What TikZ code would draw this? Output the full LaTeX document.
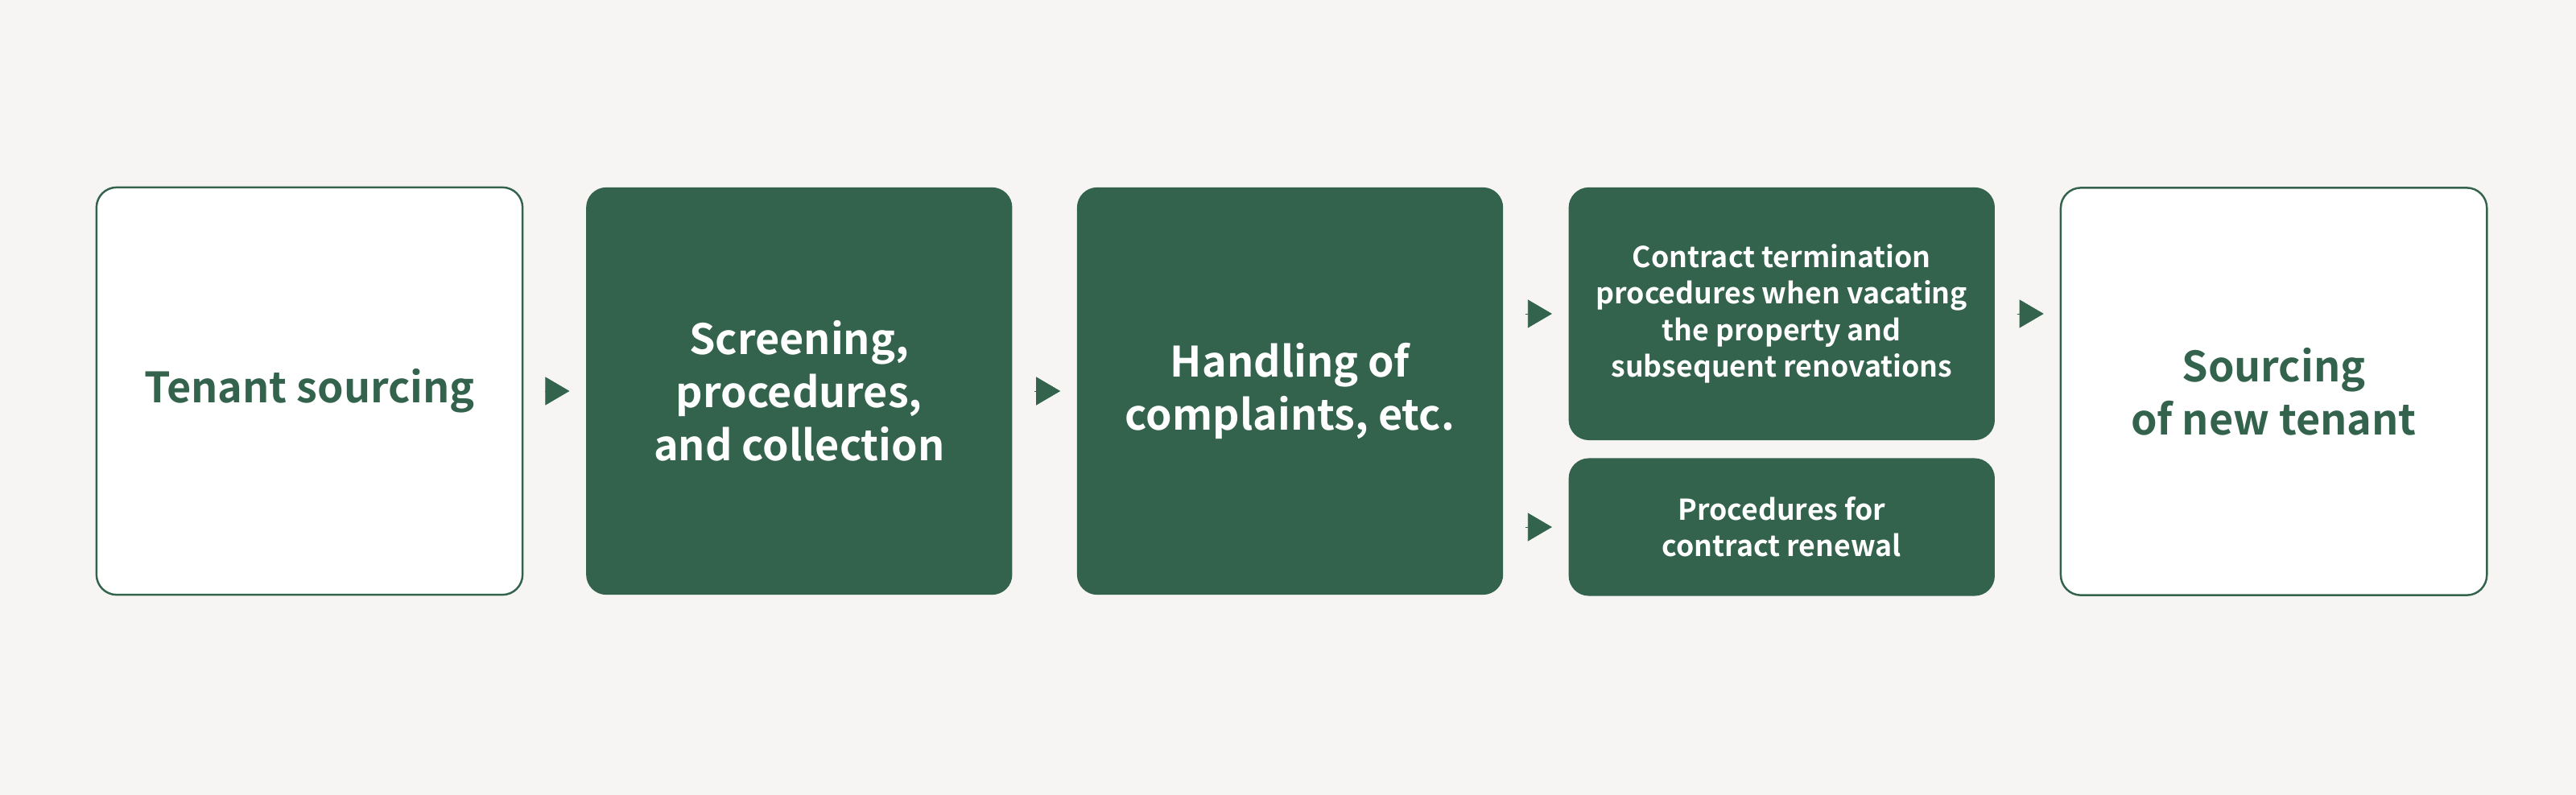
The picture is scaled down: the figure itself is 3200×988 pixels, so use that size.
\documentclass[tikz,border=0pt]{standalone}
\usepackage{fontspec}
\newfontfamily\labelfont{Noto Sans CJK JP Bold}
\usetikzlibrary{arrows.meta,positioning}
\definecolor{leafgreen}{HTML}{33634C}
\definecolor{paper}{HTML}{F6F5F3}

\begin{document}
\begin{tikzpicture}[x=0.01cm,y=-0.01cm,
    box/.style={rounded corners=0.25cm, minimum width=5.29cm, align=center, inner sep=0pt,
      font=\labelfont\fontsize{14.8}{18.8}\selectfont},
    openbox/.style={box, draw=leafgreen, fill=white, line width=0.7pt, text=leafgreen},
    darkbox/.style={box, fill=leafgreen, text=white},
    smalltext/.style={font=\labelfont\fontsize{10.15}{12.9}\selectfont},
    flow/.style={leafgreen, line width=0.2pt, -{Triangle[length=0.3cm,width=0.35cm]},
      shorten <=0.27cm, shorten >=0.2cm}]
    % background and page size
    \fill[paper] (0,0) rectangle (3200,988);

    % main row
    \node[openbox, minimum height=5.06cm] (tenant) at (384.5,486) {Tenant sourcing};
    \node[darkbox, minimum height=5.06cm, right=0.77cm of tenant] (screening) {Screening,\\procedures,\\and collection};
    \node[darkbox, minimum height=5.06cm, right=0.79cm of screening] (complaints) {Handling of\\complaints, etc.};

    % the two branches
    \node[darkbox, smalltext, minimum height=3.14cm, right=0.8cm of complaints.north east, anchor=north west] (termination)
      {Contract termination\\procedures when vacating\\the property and\\subsequent renovations};
    \node[darkbox, smalltext, minimum height=1.71cm, below=0.21cm of termination] (renewal) {Procedures for\\contract renewal};

    \node[openbox, minimum height=5.06cm, right=0.8cm of termination.north east, anchor=north west] (newtenant) {Sourcing\\of new tenant};

    % arrows
    \draw[flow] (tenant.east) -- (screening.west);
    \draw[flow] (screening.east) -- (complaints.west);
    \draw[flow] (complaints.east |- termination.west) -- (termination.west);
    \draw[flow] (complaints.east |- renewal.west) -- (renewal.west);
    \draw[flow] (termination.east) -- (newtenant.west |- termination.east);
\end{tikzpicture}
\end{document}
